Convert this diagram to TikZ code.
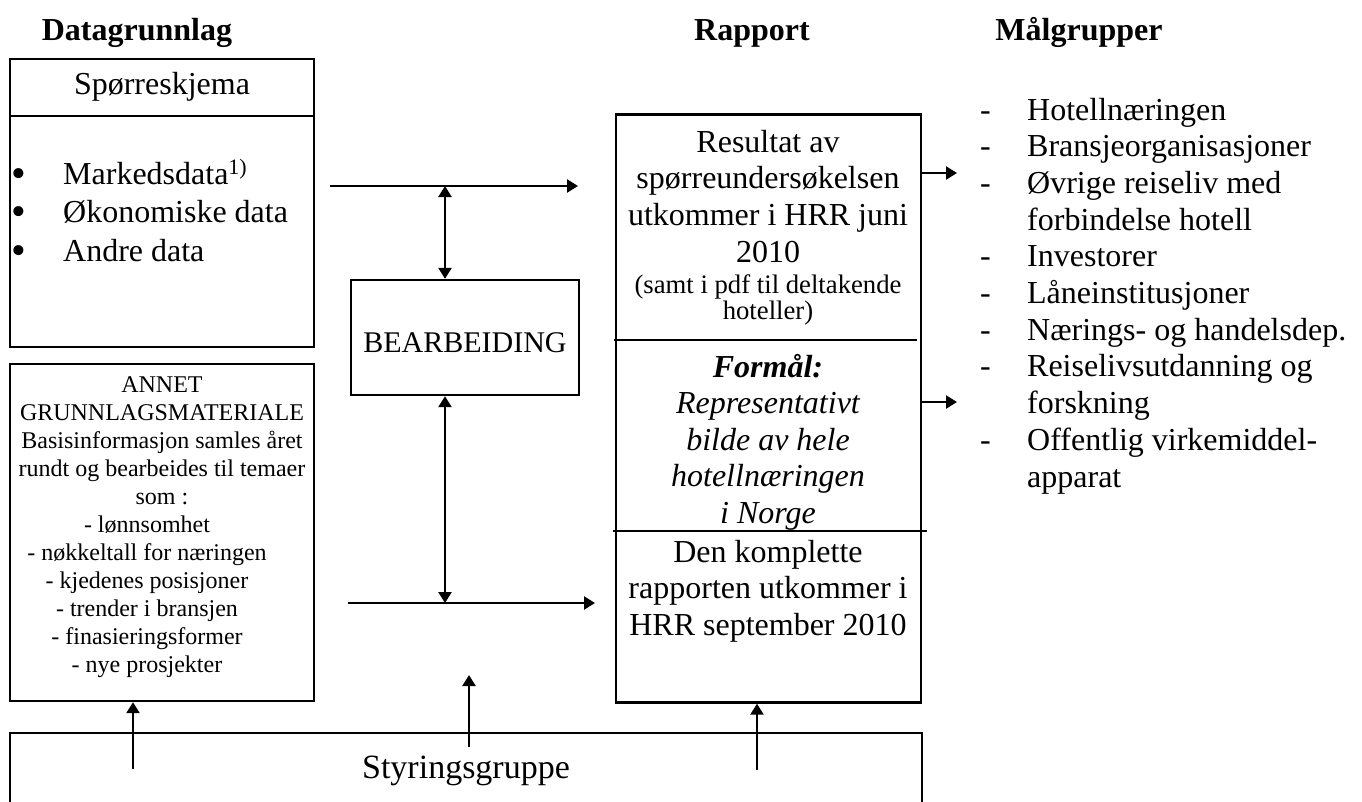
\documentclass[tikz,border=0pt]{standalone}
\usepackage{fontspec}
\setmainfont{Liberation Serif}
\usetikzlibrary{arrows.meta}

\newcommand\annetpad{\hspace*{30pt}}
\newcommand\punktdot{\raisebox{-3pt}{\fontsize{42}{42}\selectfont\textbullet}}

\begin{document}
\begin{tikzpicture}[x=1pt,y=-1pt,
  frame/.style={draw,line width=2.4pt,inner sep=0},
  txt/.style={inner sep=0,font=\fontsize{32}{36.7}\selectfont},
  head/.style={inner sep=0,anchor=base,font=\fontsize{32}{36.7}\selectfont\bfseries},
  arr/.style={line width=2.4pt,-{Triangle[length=11pt,width=13pt]}},
  darr/.style={line width=2.4pt,{Triangle[length=11pt,width=13pt]}-{Triangle[length=11pt,width=13pt]}}]
\useasboundingbox (0,0) rectangle (1362,801);
\clip (0,0) rectangle (1362,801);

\node[head] (hdata) at (137,40) {Datagrunnlag};
\node[head] (hrap) at (752,40) {Rapport};
\node[head] (hmaal) at (1079,40) {Målgrupper};

% datagrunnlag
\node[frame,minimum width=304,minimum height=288] (sporr) at (162,203) {};
\draw[line width=2.4pt] (10,116) -- (314,116);
\node[txt,anchor=base] (sptitle) at (162,94) {Spørreskjema};
\node[anchor=base west,inner sep=0,font=\fontsize{32}{38.5}\selectfont] (punkt) at (11,184)
  {\begin{tabular}[t]{@{}p{52pt}@{}l@{}}
  \punktdot & Markedsdata\raisebox{10pt}{\fontsize{22}{22}\selectfont 1)}\\
  \punktdot & Økonomiske data\\
  \punktdot & Andre data
  \end{tabular}};

\node[frame,minimum width=304,minimum height=337] (annet) at (162,532.5) {};
\node[anchor=base,inner sep=0,font=\fontsize{24}{28}\selectfont] (annettxt) at (162,392)
  {\begin{tabular}[t]{@{}c@{}}
  ANNET\\
  GRUNNLAGSMATERIALE\\
  Basisinformasjon samles året\\
  rundt og bearbeides til temaer\\
  som :\\
  - lønnsomhet\annetpad\\
  - nøkkeltall for næringen\annetpad\\
  - kjedenes posisjoner\annetpad\\
  - trender i bransjen\annetpad\\
  - finasieringsformer\annetpad\\
  - nye prosjekter\annetpad
  \end{tabular}};

% bearbeiding
\node[frame,minimum width=228,minimum height=115] (bear) at (465,337.5) {};
\node[inner sep=0,font=\fontsize{30}{34}\selectfont] (beartxt) at (465,343) {BEARBEIDING};

\coordinate (a1) at (330,186);
\coordinate (a2) at (578,186);
\coordinate (a3) at (445,186);
\draw[arr] (a1) -- (a2);
\draw[darr] (a3) -- (a3 |- bear.north);

\coordinate (b1) at (348,603);
\coordinate (b2) at (595,603);
\coordinate (b3) at (445,603);
\draw[arr] (b1) -- (b2);
\draw[darr] (bear.south -| b3) -- (b3);

% rapport
\node[frame,minimum width=305,minimum height=588] (rap) at (768.5,408.5) {};
\draw[line width=2.4pt] (614,340) -- (917,340);
\draw[line width=2.4pt] (613,531) -- (927,531);
\node[txt,anchor=base] (res) at (768,152)
  {\begin{tabular}[t]{@{}c@{}}Resultat av\\spørreundersøkelsen\\utkommer i HRR juni\\2010\end{tabular}};
\node[anchor=base,inner sep=0,font=\fontsize{26.7}{25.5}\selectfont] (samt) at (768,293)
  {\begin{tabular}[t]{@{}c@{}}(samt i pdf til deltakende\\hoteller)\end{tabular}};
\node[txt,anchor=base,font=\fontsize{32}{36.5}\selectfont\itshape] (formaal) at (768,377)
  {\begin{tabular}[t]{@{}c@{}}\textbf{Formål:}\\Representativt\\bilde av hele\\hotellnæringen\\i Norge\end{tabular}};
\node[txt,anchor=base] (den) at (768,562)
  {\begin{tabular}[t]{@{}c@{}}Den komplette\\rapporten utkommer i\\HRR september 2010\end{tabular}};

% maalgrupper
\node[txt,anchor=base west] (maal) at (980,120)
  {\begin{tabular}[t]{@{}p{47pt}@{}l@{}}
  - & Hotellnæringen\\
  - & Bransjeorganisasjoner\\
  - & Øvrige reiseliv med\\
    & forbindelse hotell\\
  - & Investorer\\
  - & Låneinstitusjoner\\
  - & Nærings- og handelsdep.\\
  - & Reiselivsutdanning og\\
    & forskning\\
  - & Offentlig virkemiddel-\\
    & apparat
  \end{tabular}};
\coordinate (m1) at (957,173);
\coordinate (m2) at (957,402);
\draw[arr] (rap.east |- m1) -- (m1);
\draw[arr] (rap.east |- m2) -- (m2);

% styringsgruppe
\node[draw,line width=2pt,inner sep=0,minimum width=912,minimum height=120] (styr) at (466,793) {};
\node[inner sep=0,font=\fontsize{34}{40}\selectfont] (styrtxt) at (466,771) {Styringsgruppe};
\coordinate (s1) at (133,769);
\coordinate (s2) at (469,747);
\coordinate (s2e) at (469,675);
\coordinate (s3) at (757,770);
\draw[arr] (s1) -- (s1 |- annet.south);
\draw[arr] (s2) -- (s2e);
\draw[arr] (s3) -- (s3 |- rap.south);

\end{tikzpicture}
\end{document}
